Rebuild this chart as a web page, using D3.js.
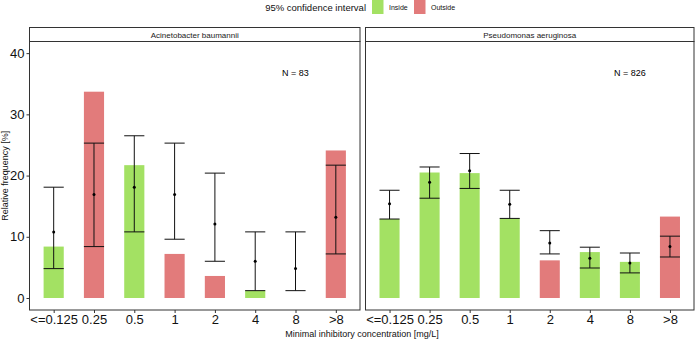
<!DOCTYPE html>
<html>
<head>
<meta charset="utf-8">
<script src="https://cdn.jsdelivr.net/npm/d3@7"></script>
<style>
body { margin: 0; background: #fff; }
text { font-family: 'Liberation Sans', Arial, sans-serif; }
</style>
</head>
<body>
<svg></svg>
<script>
const categories = ['<=0.125', '0.25', '0.5', '1', '2', '4', '8', '>8'];
const panels = ['Acinetobacter baumannii', 'Pseudomonas aeruginosa'];
const nLabels = ['N = 83', 'N = 826'];

// observed relative frequency (bars)
const barsAB = [8.4, 33.7, 21.7, 7.2, 3.6, 1.2, 0, 24.1];
const barsPA = [12.9, 20.5, 20.4, 13.0, 6.15, 7.5, 5.9, 13.3];
// expected value and 95% confidence interval
const midAB = [10.8, 16.9, 18.1, 16.9, 12.1, 6.0, 4.8, 13.2];
const lowAB = [4.8, 8.4, 10.8, 9.6, 6.0, 1.2, 1.2, 7.2];
const highAB = [18.1, 25.3, 26.5, 25.3, 20.4, 10.8, 10.8, 21.7];
const midPA = [15.4, 18.9, 20.8, 15.3, 9.0, 6.5, 5.7, 8.4];
const lowPA = [12.9, 16.3, 17.9, 13.0, 7.2, 4.9, 4.1, 6.7];
const highPA = [17.6, 21.4, 23.6, 17.6, 11.0, 8.3, 7.35, 10.1];

const yTicks = [0, 10, 20, 30, 40];
const legendLabels = ['Inside', 'Outside'];
const colors = { Inside: '#a3e163', Outside: '#e27b7b' };

const svg = d3.select('svg')
	.attr('width', 696)
	.attr('height', 340);

const seriesList = [
	{ bars: barsAB, mid: midAB, low: lowAB, high: highAB },
	{ bars: barsPA, mid: midPA, low: lowPA, high: highPA }
];

const panelX = [[29.5, 360], [365.5, 694]];
const panelTop = 41.5, panelBottom = 310, stripTop = 27.5;

const yScale = d3.scaleLinear()
	.domain([-1.96, 41.9])
	.range([panelBottom, panelTop]);

panels.forEach((name, p) => {
	const [x0, x1] = panelX[p];
	const s = seriesList[p];
	const data = categories.map((c, i) => {
		const inside = s.bars[i] >= s.low[i] - 0.05 && s.bars[i] <= s.high[i] + 0.05;
		return { c, bar: s.bars[i], mid: s.mid[i], low: s.low[i], high: s.high[i], status: inside ? 'Inside' : 'Outside' };
	});

	// discrete scale with 0.6 expansion each side
	const unit = (x1 - x0) / 8.2;
	const xScale = d3.scalePoint()
		.domain(categories)
		.range([x0 + 0.6 * unit, x1 - 0.6 * unit]);
	const bw = unit * 0.5;

	const g = svg.append('g');

	// strip
	g.append('rect')
		.attr('x', x0).attr('y', stripTop)
		.attr('width', x1 - x0).attr('height', panelTop - stripTop)
		.attr('fill', '#fff').attr('stroke', '#333').attr('stroke-width', 1);
	g.append('text')
		.attr('x', (x0 + x1) / 2).attr('y', (stripTop + panelTop) / 2 + 3)
		.attr('text-anchor', 'middle')
		.attr('font-size', 8).attr('fill', '#1a1a1a')
		.text(name);

	g.selectAll('.bar')
		.data(data.filter(d => d.bar > 0))
		.enter().append('rect')
		.attr('x', d => xScale(d.c) - bw / 2)
		.attr('width', bw)
		.attr('y', d => yScale(d.bar))
		.attr('height', d => yScale(0) - yScale(d.bar))
		.attr('fill', d => colors[d.status]);

	// error bars
	const eb = g.selectAll('.eb').data(data).enter().append('g')
		.attr('stroke', '#111').attr('stroke-width', 1);
	eb.append('line')
		.attr('x1', d => xScale(d.c)).attr('x2', d => xScale(d.c))
		.attr('y1', d => yScale(d.low)).attr('y2', d => yScale(d.high));
	eb.append('line')
		.attr('x1', d => xScale(d.c) - bw / 2).attr('x2', d => xScale(d.c) + bw / 2)
		.attr('y1', d => yScale(d.low)).attr('y2', d => yScale(d.low));
	eb.append('line')
		.attr('x1', d => xScale(d.c) - bw / 2).attr('x2', d => xScale(d.c) + bw / 2)
		.attr('y1', d => yScale(d.high)).attr('y2', d => yScale(d.high));
	g.selectAll('.pt').data(data).enter().append('circle')
		.attr('cx', d => xScale(d.c)).attr('cy', d => yScale(d.mid))
		.attr('r', 1.5).attr('fill', '#000');

	g.append('text')
		.attr('x', xScale('8')).attr('y', yScale(36.7) + 3)
		.attr('text-anchor', 'middle')
		.attr('font-size', 9).attr('fill', '#000')
		.text(nLabels[p]);

	// panel border
	g.append('rect')
		.attr('x', x0).attr('y', panelTop)
		.attr('width', x1 - x0).attr('height', panelBottom - panelTop)
		.attr('fill', 'none').attr('stroke', '#333').attr('stroke-width', 1);

	const xAxis = d3.axisBottom(xScale).tickSize(3).tickPadding(2);
	const xAxisG = g.append('g')
		.attr('transform', `translate(0, ${panelBottom})`)
		.call(xAxis);
	xAxisG.select('.domain').remove();
	xAxisG.selectAll('line').attr('stroke', '#333');
	xAxisG.selectAll('text')
		.attr('font-size', 13).attr('fill', '#111')
		.attr('font-family', "'Liberation Sans', Arial, sans-serif");

	if (p === 0) {
		const yAxis = d3.axisLeft(yScale).tickValues(yTicks).tickSize(3).tickPadding(2);
		const yAxisG = g.append('g')
			.attr('transform', `translate(${x0}, 0)`)
			.call(yAxis);
		yAxisG.select('.domain').remove();
		yAxisG.selectAll('line').attr('stroke', '#333');
		yAxisG.selectAll('text')
			.attr('font-size', 13).attr('fill', '#111')
			.attr('font-family', "'Liberation Sans', Arial, sans-serif");
	}
});

// axis titles
svg.append('text')
	.attr('transform', `translate(8, ${(panelTop + panelBottom) / 2}) rotate(-90)`)
	.attr('text-anchor', 'middle')
	.attr('font-size', 9).attr('fill', '#111')
	.text('Relative frequency [%]');

svg.append('text')
	.attr('x', 362).attr('y', 337)
	.attr('text-anchor', 'middle')
	.attr('font-size', 9).attr('fill', '#111')
	.text('Minimal inhibitory concentration [mg/L]');

// legend
const legend = svg.append('g');
legend.append('text')
	.attr('x', 366).attr('y', 11)
	.attr('text-anchor', 'end')
	.attr('font-size', 9.5).attr('fill', '#111')
	.text('95% confidence interval');
const keyX = [372, 414];
legendLabels.forEach((lab, i) => {
	legend.append('rect')
		.attr('x', keyX[i]).attr('y', 0)
		.attr('width', 11.5).attr('height', 14)
		.attr('fill', colors[lab]);
	legend.append('text')
		.attr('x', keyX[i] + 17).attr('y', 10)
		.attr('font-size', 7).attr('fill', '#111')
		.text(lab);
});
</script>
</body>
</html>
